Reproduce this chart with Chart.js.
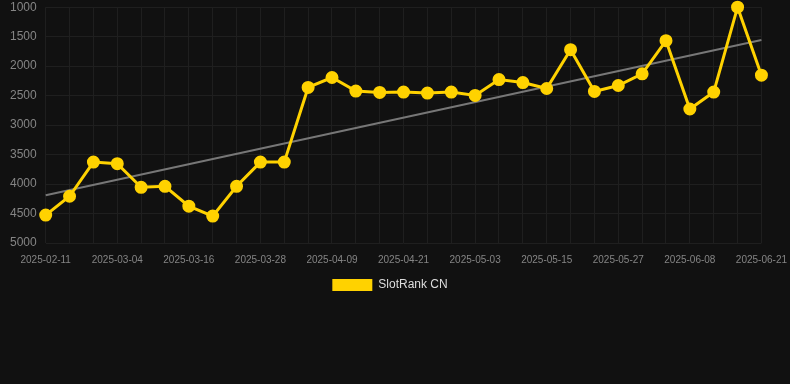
<!DOCTYPE html>
<html>
<head>
<meta charset="utf-8">
<script src="https://cdn.jsdelivr.net/npm/chart.js@4"></script>
<style>
  html, body { margin: 0; padding: 0; background: #111111; }
  #wrap { width: 790px; height: 301px; position: relative; }
</style>
</head>
<body>
<div id="wrap"><canvas id="chart"></canvas></div>
<script>
// Dates (category axis, every 3rd label shown)
const dates = [
  '2025-02-11', '2025-02-18', '2025-02-25', '2025-03-04', '2025-03-08', '2025-03-12',
  '2025-03-16', '2025-03-20', '2025-03-24', '2025-03-28', '2025-04-01', '2025-04-05',
  '2025-04-09', '2025-04-13', '2025-04-17', '2025-04-21', '2025-04-25', '2025-04-29',
  '2025-05-03', '2025-05-07', '2025-05-11', '2025-05-15', '2025-05-19', '2025-05-23',
  '2025-05-27', '2025-05-31', '2025-06-04', '2025-06-08', '2025-06-12', '2025-06-16',
  '2025-06-21'
];

// Rank values
const rankCN = [
  4527, 4207, 3628, 3655, 4055, 4038, 4376, 4544, 4038, 3628, 3628, 2361,
  2193, 2423, 2446, 2440, 2457, 2440, 2497, 2227, 2278, 2379, 1720, 2429,
  2328, 2131, 1568, 2727, 2440, 1000, 2153
];

// Trend line end points
const trendStart = 4190;
const trendEnd = 1557;

const trendData = dates.map((d, i) => {
  if (i === 0) return trendStart;
  if (i === dates.length - 1) return trendEnd;
  return null;
});

new Chart(document.getElementById('chart'), {
  type: 'line',
  data: {
    labels: dates,
    datasets: [
      {
        label: 'SlotRank CN',
        data: rankCN,
        borderColor: '#ffd200',
        backgroundColor: '#ffd200',
        borderWidth: 3,
        pointRadius: 5,
        pointHoverRadius: 5,
        tension: 0,
        clip: false
      },
      {
        label: 'trend',
        data: trendData,
        borderColor: '#777777',
        borderWidth: 2,
        pointRadius: 0,
        spanGaps: true,
        tension: 0
      }
    ]
  },
  options: {
    responsive: true,
    maintainAspectRatio: false,
    animation: false,
    layout: { autoPadding: false, padding: { left: 10, right: 20, top: 0 } },
    plugins: {
      legend: {
        position: 'bottom',
        labels: {
          color: '#dddddd',
          font: { family: 'Arial, Liberation Sans', size: 12 },
          boxWidth: 40,
          boxHeight: 12,
          padding: 10,
          generateLabels: chart => [{
            text: 'SlotRank CN',
            fillStyle: '#ffd200',
            strokeStyle: '#ffd200',
            lineWidth: 0,
            fontColor: '#dddddd',
            datasetIndex: 0
          }]
        }
      },
      tooltip: { enabled: false }
    },
    scales: {
      x: {
        offset: false,
        grid: { color: '#1f1f1f', drawTicks: true, tickLength: 8, tickColor: 'rgba(0,0,0,0)' },
        border: { display: false },
        ticks: {
          color: '#858585',
          font: { family: 'Arial, Liberation Sans', size: 10 },
          autoSkip: false,
          maxRotation: 0,
          padding: 3,
          callback: function (value, index) {
            return index % 3 === 0 ? this.getLabelForValue(value) : '';
          }
        }
      },
      y: {
        reverse: true,
        min: 1000,
        max: 5000,
        grid: { color: '#1f1f1f', drawTicks: true, tickLength: 9, tickColor: 'rgba(0,0,0,0)' },
        border: { display: false },
        ticks: {
          color: '#858585',
          font: { family: 'Arial, Liberation Sans', size: 12 },
          stepSize: 500,
          padding: 0,
          callback: value => String(value)
        }
      }
    }
  }
});
</script>
</body>
</html>
